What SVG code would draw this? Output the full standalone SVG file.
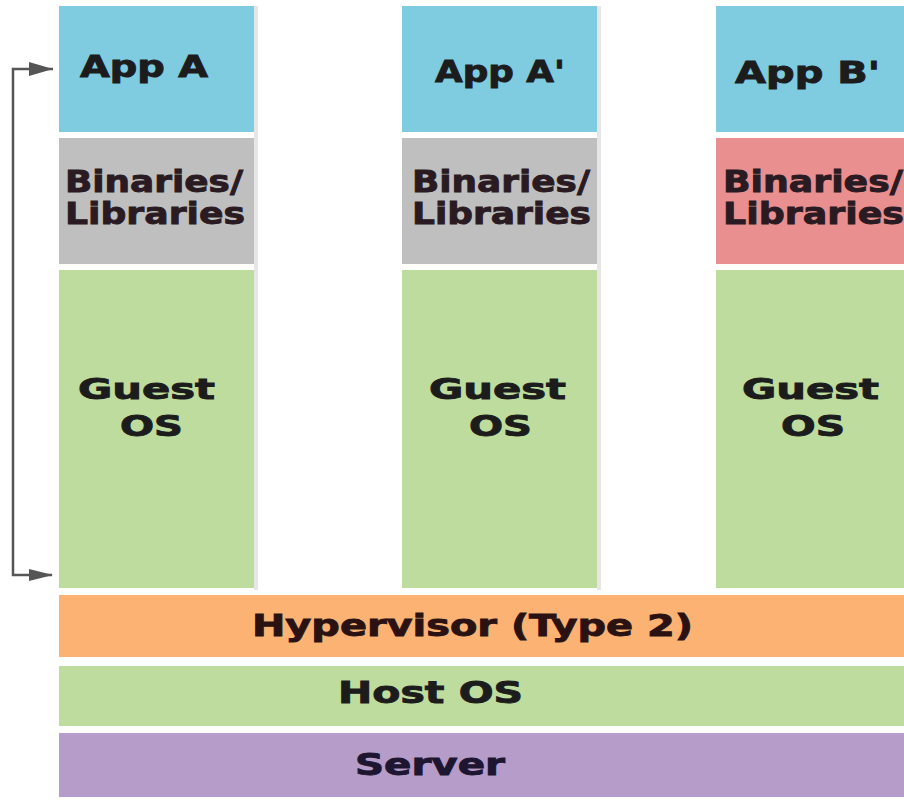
<svg xmlns="http://www.w3.org/2000/svg" width="904" height="800" viewBox="0 0 904 800">
  <style>
    .lbl { font-family: "DejaVu Sans", Verdana, sans-serif; font-weight: bold; fill: #1c1c1c; stroke: #1c1c1c; stroke-width: 0.9; }
    .app { fill: #7fcbe0; }
    .bin { fill: #bfbfbf; }
    .binr { fill: #e98f8f; }
    .green { fill: #bddc9d; }
    .hyp { fill: #fbb272; }
    .srv { fill: #b59cc9; }
    .shadow { fill: #e6e6e6; }
    .conn { stroke: #555555; stroke-width: 2.5; fill: none; }
  </style>
  <defs>
    <marker id="arrow" markerWidth="24" markerHeight="14" refX="23" refY="7" orient="auto" markerUnits="userSpaceOnUse">
      <path d="M0,1 L24,7 L0,13 Z" fill="#555555"/>
    </marker>
  </defs>
  <rect width="904" height="800" fill="#ffffff"/>

  <g id="vm1">
    <rect class="shadow" x="254" y="6" width="4" height="584"/>
    <rect class="app" x="59" y="6" width="195" height="126"/>
    <text class="lbl" x="80" y="77" font-size="30" textLength="128" lengthAdjust="spacingAndGlyphs">App A</text>
    <rect class="bin" x="59" y="138" width="195" height="126"/>
    <text class="lbl" x="65" y="192" font-size="30" textLength="178" lengthAdjust="spacingAndGlyphs" style="fill:#2a1a22;stroke:#2a1a22">Binaries/</text>
    <text class="lbl" x="65" y="224" font-size="30" textLength="180" lengthAdjust="spacingAndGlyphs" style="fill:#2a1a22;stroke:#2a1a22">Libraries</text>
    <rect class="green" x="59" y="270" width="195" height="318"/>
    <text class="lbl" x="78" y="399" font-size="29" textLength="137" lengthAdjust="spacingAndGlyphs">Guest</text>
    <text class="lbl" x="120" y="436" font-size="29" textLength="63" lengthAdjust="spacingAndGlyphs">OS</text>
  </g>

  <g id="vm2">
    <rect class="shadow" x="597" y="6" width="4" height="584"/>
    <rect class="app" x="402" y="6" width="195" height="126"/>
    <text class="lbl" x="435" y="82" font-size="30" textLength="130" lengthAdjust="spacingAndGlyphs">App A'</text>
    <rect class="bin" x="402" y="138" width="195" height="126"/>
    <text class="lbl" x="412" y="192" font-size="30" textLength="178" lengthAdjust="spacingAndGlyphs" style="fill:#2a1a22;stroke:#2a1a22">Binaries/</text>
    <text class="lbl" x="412" y="224" font-size="30" textLength="179" lengthAdjust="spacingAndGlyphs" style="fill:#2a1a22;stroke:#2a1a22">Libraries</text>
    <rect class="green" x="402" y="270" width="195" height="318"/>
    <text class="lbl" x="429" y="399" font-size="29" textLength="137" lengthAdjust="spacingAndGlyphs">Guest</text>
    <text class="lbl" x="469" y="436" font-size="29" textLength="63" lengthAdjust="spacingAndGlyphs">OS</text>
  </g>

  <g id="vm3">
    <rect class="app" x="716" y="6" width="188" height="126"/>
    <text class="lbl" x="735" y="83" font-size="30" textLength="145" lengthAdjust="spacingAndGlyphs">App B'</text>
    <rect class="binr" x="716" y="138" width="188" height="126"/>
    <text class="lbl" x="723" y="192" font-size="30" textLength="180" lengthAdjust="spacingAndGlyphs" style="fill:#2a1a22;stroke:#2a1a22">Binaries/</text>
    <text class="lbl" x="723" y="224" font-size="30" textLength="181" lengthAdjust="spacingAndGlyphs" style="fill:#2a1a22;stroke:#2a1a22">Libraries</text>
    <rect class="green" x="716" y="270" width="188" height="318"/>
    <text class="lbl" x="742" y="399" font-size="29" textLength="137" lengthAdjust="spacingAndGlyphs">Guest</text>
    <text class="lbl" x="781" y="436" font-size="29" textLength="64" lengthAdjust="spacingAndGlyphs">OS</text>
  </g>

  <g id="hypervisor">
    <rect class="hyp" x="59" y="595" width="845" height="62"/>
    <text class="lbl" x="252" y="636" font-size="31" textLength="441" lengthAdjust="spacingAndGlyphs" style="fill:#2a1212;stroke:#2a1212">Hypervisor (Type 2)</text>
  </g>

  <g id="hostos">
    <rect class="green" x="59" y="666" width="845" height="60"/>
    <text class="lbl" x="338" y="703" font-size="30" textLength="185" lengthAdjust="spacingAndGlyphs">Host OS</text>
  </g>

  <g id="server">
    <rect class="srv" x="59" y="733" width="845" height="64"/>
    <text class="lbl" x="355" y="775" font-size="30" textLength="150" lengthAdjust="spacingAndGlyphs" style="fill:#1e1530;stroke:#1e1530">Server</text>
  </g>

  <g id="connectors">
    <path class="conn" d="M53,69 L13,69 L13,575 L52,575" marker-end="url(#arrow)"/>
    <path d="M53,69 L29,62 L29,76 Z" fill="#555555"/>
  </g>
</svg>
